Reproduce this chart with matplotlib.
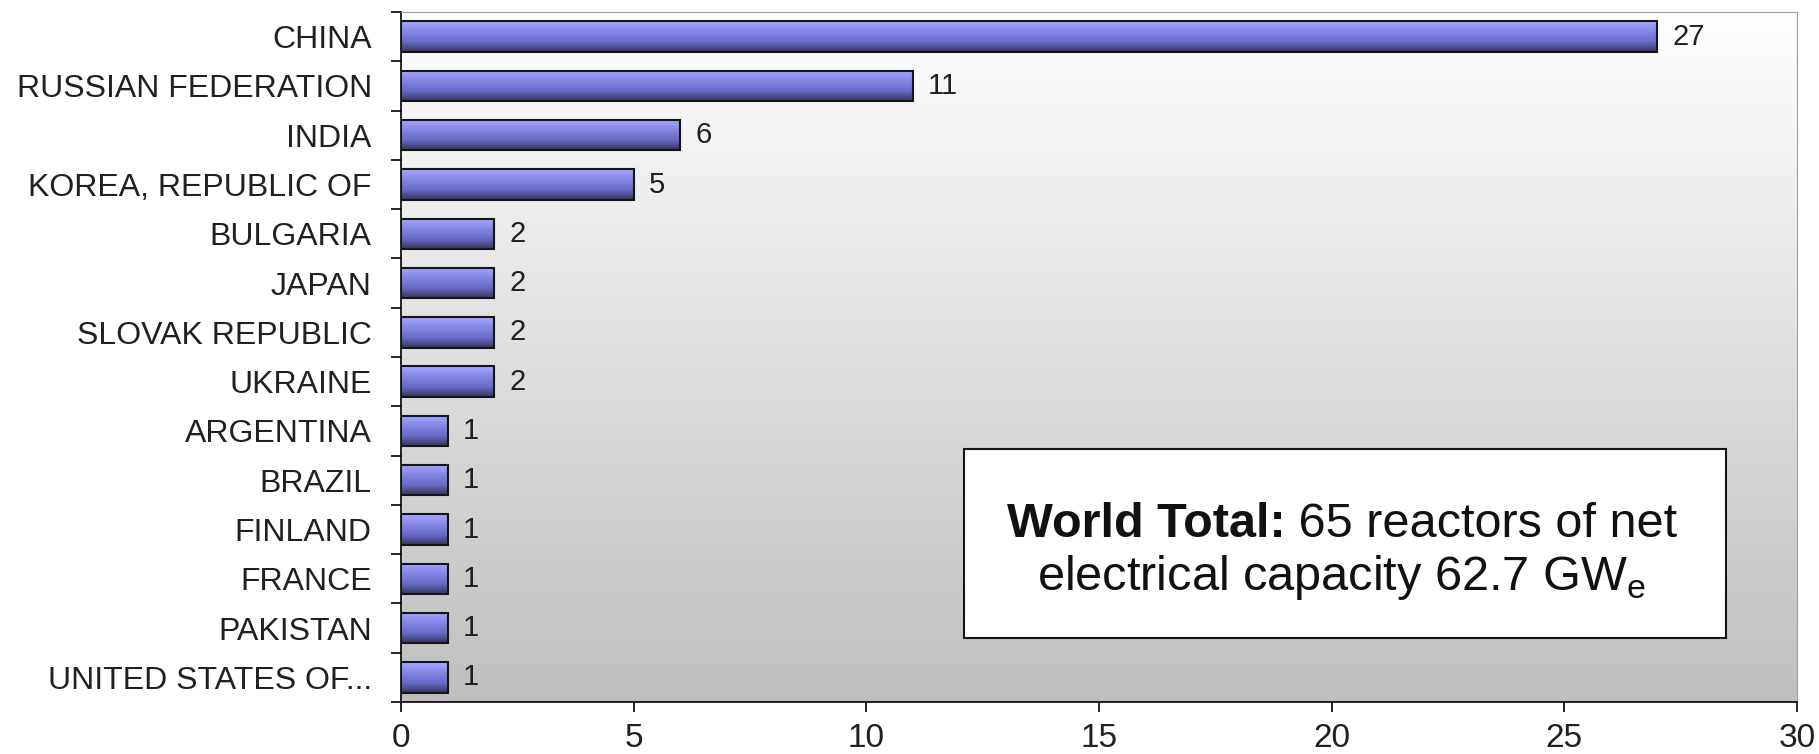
import numpy as np
import matplotlib
matplotlib.use("Agg")
from matplotlib import pyplot as plt
from matplotlib.colors import LinearSegmentedColormap

plt.rcParams['font.family'] = ['Liberation Sans', 'DejaVu Sans']
plt.rcParams['mathtext.fontset'] = 'custom'
plt.rcParams['mathtext.rm'] = 'Liberation Sans'

# data
countries = ["CHINA", "RUSSIAN FEDERATION", "INDIA", "KOREA, REPUBLIC OF",
             "BULGARIA", "JAPAN", "SLOVAK REPUBLIC", "UKRAINE", "ARGENTINA",
             "BRAZIL", "FINLAND", "FRANCE", "PAKISTAN", "UNITED STATES OF..."]
reactors = [27, 11, 6, 5, 2, 2, 2, 2, 1, 1, 1, 1, 1, 1]
x_ticks = [0, 5, 10, 15, 20, 25, 30]

W, H = 1819, 754
fig = plt.figure(figsize=(W/100, H/100), dpi=100)
ax = fig.add_axes([401/W, 1 - 702/H, (1797-401)/W, (702-12)/H])

# background gradient (white -> gray)
bg = LinearSegmentedColormap.from_list("bg", ["#ffffff", "#bfbfbf"])
grad = np.linspace(0, 1, 256).reshape(-1, 1)
ax.imshow(grad, cmap=bg, aspect='auto', extent=[0, 1, 0, 1], origin='upper',
          transform=ax.transAxes, zorder=0)

# bars with vertical gradient
barc = LinearSegmentedColormap.from_list("bar", ["#a8a8ff", "#8686e8", "#6a6ac8", "#34345e"])
h = 0.62
pos = np.arange(len(countries))
for i, v in zip(pos, reactors):
    ax.imshow(grad, cmap=barc, aspect='auto', origin='upper',
              extent=[0, v, i + h/2, i - h/2], zorder=2)
ax.barh(pos, reactors, height=h, facecolor='none', edgecolor='#151515',
        linewidth=1.5, zorder=3)

for i, v in zip(pos, reactors):
    ax.annotate(str(v), (v, i), xytext=(11, 0), textcoords='offset points',
                va='center', ha='left', fontsize=21, color='#202020')

ax.set_xlim(0, 30)
ax.set_ylim(len(countries) - 0.5, -0.5)

# ticks: marks between categories, labels at centers
ax.set_yticks(np.arange(-0.5, len(countries)), [])
ax.set_yticks(pos, countries, minor=True)
ax.tick_params(axis='y', which='major', direction='out', length=7, width=1.2)
ax.tick_params(axis='y', which='minor', length=0, pad=21, labelsize=23, labelcolor='#202020')
ax.set_xticks(x_ticks)
ax.tick_params(axis='x', direction='out', length=7, width=1.2, pad=8,
               labelsize=24, labelcolor='#202020')

ax.spines['left'].set_linewidth(1.2)
ax.spines['bottom'].set_linewidth(1.2)
ax.spines['top'].set_color('#a0a0a0')
ax.spines['right'].set_color('#a0a0a0')

# summary box
fig.patches.append(plt.Rectangle((964/W, 1 - 638/H), (1726-964)/W, (638-449)/H,
                                 transform=fig.transFigure, facecolor='white',
                                 edgecolor='#151515', linewidth=1.5, zorder=5))
cx = 1342/W
fs = 35
t1 = fig.text(0, 1 - 537/H, "World Total:", fontsize=fs, fontweight='bold',
              color='#111111', va='baseline', ha='left', zorder=6)
t2 = fig.text(0, 1 - 537/H, " 65 reactors of net", fontsize=fs,
              color='#111111', va='baseline', ha='left', zorder=6)
r = fig.canvas.get_renderer()
w1 = t1.get_window_extent(r).width
w2 = t2.get_window_extent(r).width
x0 = cx - (w1 + w2) / 2 / W
t1.set_x(x0)
t2.set_x(x0 + w1 / W)
fig.text(cx, 1 - 590/H, "electrical capacity 62.7 GW$_\\mathrm{e}$", fontsize=fs,
         color='#111111', va='baseline', ha='center', zorder=6)

plt.savefig("out.png", dpi=100)
